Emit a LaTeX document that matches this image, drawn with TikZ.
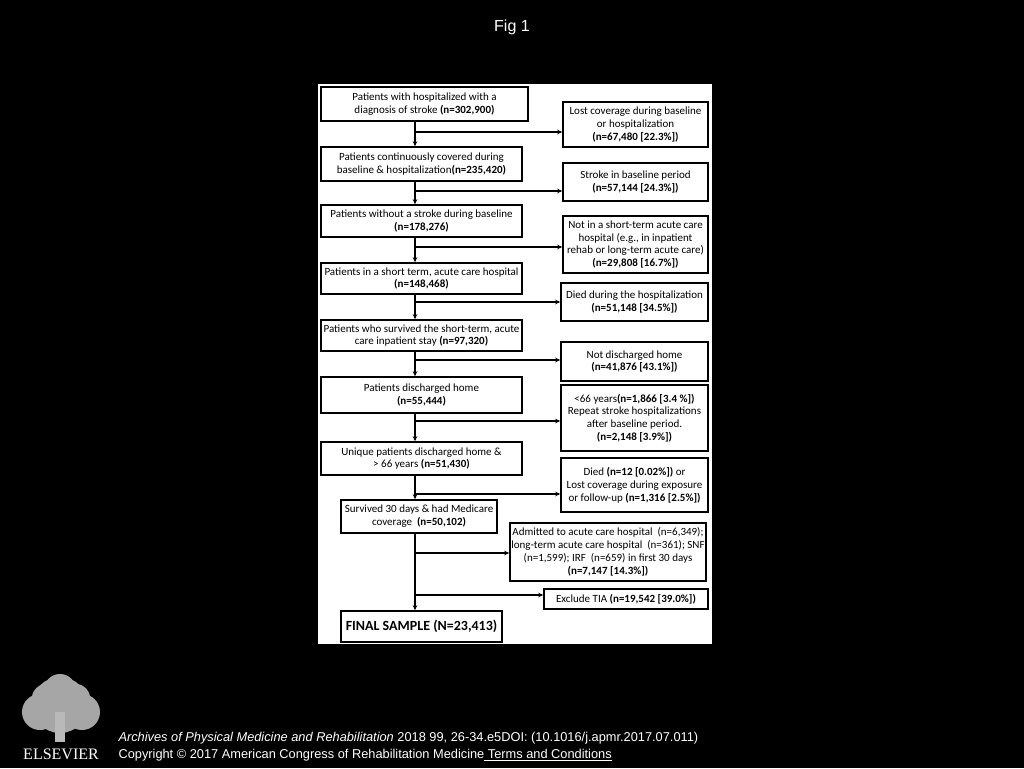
\documentclass[tikz,border=0pt]{standalone}
\usepackage{fontspec}
\setmainfont{Liberation Sans}
\newfontfamily\boxfont{Carlito}
\newfontfamily\logofont{Liberation Serif}
\usetikzlibrary{arrows.meta,positioning,calc}
\tikzset{
  leftbox/.style={draw=black,line width=1.6pt,fill=white,inner sep=0pt,align=center,
    font=\boxfont\fontsize{11}{12.8}\selectfont},
  rightbox/.style={leftbox},
  flow/.style={-{Stealth[length=5pt,width=4.5pt]},line width=1.4pt},
}
\newcommand{\bx}[6]{% name, x1, y1, x2, y2, text
  \node[leftbox,minimum width={(#4-#2)*1pt},minimum height={(#5-#3)*1pt}] (#1) at ({(#2+#4)/2},{(#3+#5)/2}) {#6};}
\begin{document}
\begin{tikzpicture}[x=1pt,y=-1pt]
  \fill[black] (0,0) rectangle (1024,768);
  \useasboundingbox (0,0) rectangle (1024,768);
  \node[text=white,font=\fontsize{16}{18}\selectfont] (title) at (512,27) {Fig 1};
  % white panel
  \fill[white] (318,84) rectangle (712,644);
  % left column
  \bx{L1}{321}{87}{528}{121}{Patients with hospitalized with a\\diagnosis of stroke \textbf{(n=302,900)}}
  \bx{L2}{321}{147}{522}{181}{Patients continuously covered during\\baseline \& hospitalization\textbf{(n=235,420)}}
  \bx{L3}{321}{205}{522}{237}{Patients without a stroke during baseline\\\textbf{(n=178,276)}}
  \bx{L4}{321}{263}{522}{294}{Patients in a short term, acute care hospital\\\textbf{(n=148,468)}}
  \bx{L5}{321}{320}{522}{351}{Patients who survived the short-term, acute\\care inpatient stay \textbf{(n=97,320)}}
  \bx{L6}{321}{377}{522}{413}{Patients discharged home\\\textbf{(n=55,444)}}
  \bx{L7}{321}{442}{522}{475}{Unique patients discharged home \&\\> 66 years \textbf{(n=51,430)}}
  \bx{L8}{341}{500}{497}{533}{Survived 30 days \& had Medicare\\coverage \ \textbf{(n=50,102)}}
  \node[leftbox,minimum width=161pt,minimum height=31pt,font=\boxfont\bfseries\fontsize{14}{16}\selectfont] (L9) at (421.5,626.5) {FINAL SAMPLE (N=23,413)};
  % right column
  \bx{R1}{563}{102}{708}{147}{Lost coverage during baseline\\or hospitalization\\\textbf{(n=67,480 [22.3\%])}}
  \bx{R2}{563}{163}{708}{201}{Stroke in baseline period\\\textbf{(n=57,144 [24.3\%])}}
  \bx{R3}{563}{216}{708}{273}{Not in a short-term acute care\\hospital (e.g., in inpatient\\rehab or long-term acute care)\\\textbf{(n=29,808 [16.7\%])}}
  \bx{R4}{561}{283}{708}{321}{Died during the hospitalization\\\textbf{(n=51,148 [34.5\%])}}
  \bx{R5}{561}{342}{708}{381}{Not discharged home\\\textbf{(n=41,876 [43.1\%])}}
  \bx{R6}{561}{385}{708}{451}{<66 years\textbf{(n=1,866 [3.4 \%])}\\Repeat stroke hospitalizations\\after baseline period.\\\textbf{(n=2,148 [3.9\%])}}
  \bx{R7}{561}{458}{708}{512}{Died \textbf{(n=12 [0.02\%])} or\\Lost coverage during exposure\\or follow-up \textbf{(n=1,316 [2.5\%])}}
  \bx{R8}{510}{523}{706}{581}{Admitted to acute care hospital \ (n=6,349);\\long-term acute care hospital \ (n=361); SNF\\(n=1,599); IRF \ (n=659) in first 30 days\\\textbf{(n=7,147 [14.3\%])}}
  \bx{R9}{544}{589}{708}{609}{Exclude TIA \textbf{(n=19,542 [39.0\%])}}
  % vertical flow
  \coordinate (ax) at (415,0);
  \foreach \a/\b in {L1/L2,L2/L3,L3/L4,L4/L5,L5/L6,L6/L7,L7/L8,L8/L9}
    \draw[flow] (\a.south -| ax) -- (\b.north -| ax);
  % exclusions
  \foreach \r/\y in {R1/132,R2/191,R3/247,R4/302,R5/360,R6/421,R7/494,R8/553,R9/595} {
    \coordinate (b\r) at (415,\y);
    \draw[flow] (b\r) -- (b\r -| \r.west);
  }
  % footer
  \node[anchor=west,text=white,font=\fontsize{12.8}{14}\selectfont] (cite) at (115,738)
    {\textit{Archives of Physical Medicine and Rehabilitation} 2018 99, 26-34.e5DOI: (10.1016/j.apmr.2017.07.011)};
  \node[anchor=west,text=white,font=\fontsize{12.8}{14}\selectfont] (copy) at (115,755)
    {Copyright © 2017 American Congress of Rehabilitation Medicine\underline{ Terms and Conditions}};
  % publisher logo
  \foreach \cx/\cy/\rr in {60/705/28,40/712/18,82/712/18,60/690/16,46/698/14,76/698/14}
    \fill[gray!70] (\cx,\cy) circle (\rr);
  \fill[gray!55] (55,712) rectangle (65,742);
  \node[text=white,font=\logofont\fontsize{16}{18}\selectfont] (logo) at (61,754) {ELSEVIER};
\end{tikzpicture}
\end{document}
